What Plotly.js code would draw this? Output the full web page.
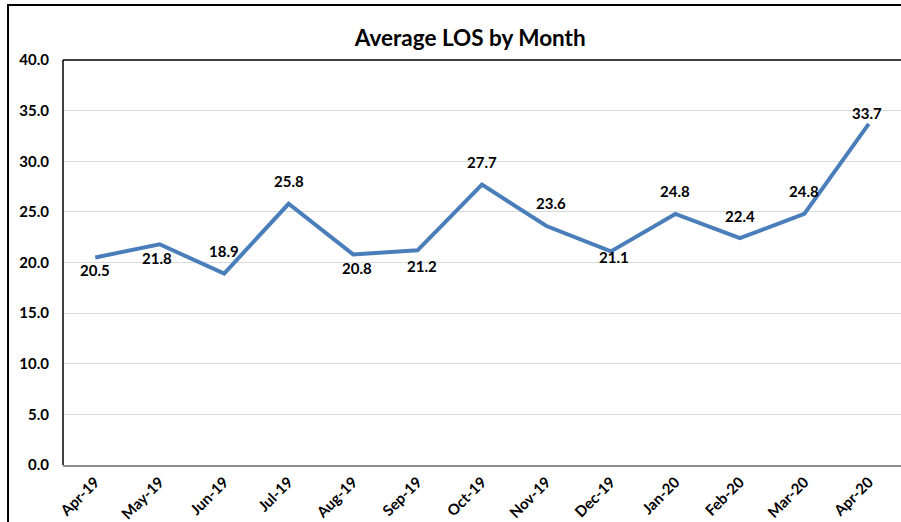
<!DOCTYPE html>
<html>
<head>
<meta charset="utf-8">
<script src="https://cdn.plot.ly/plotly-3.0.1.min.js"></script>
<style>
  html, body { margin: 0; padding: 0; background: #fff; }
  #chart { width: 901px; height: 522px; }
</style>
</head>
<body>
<div id="chart"></div>
<script>
// Monthly average length of stay
const months = ['Apr-19', 'May-19', 'Jun-19', 'Jul-19', 'Aug-19', 'Sep-19', 'Oct-19',
                'Nov-19', 'Dec-19', 'Jan-20', 'Feb-20', 'Mar-20', 'Apr-20'];
const avgLos = [20.5, 21.8, 18.9, 25.8, 20.8, 21.2, 27.7, 23.6, 21.1, 24.8, 22.4, 24.8, 33.7];
const yTicks = [0, 5, 10, 15, 20, 25, 30, 35, 40];

// label placement: vertical shift (px) of each value label from its point
const labelShift = [-13, -14, 23, 23, -14, -16, 23, 23, -6, 23, 22, 23, 11];
const labelNudge = [0, -3, 0, 0, 4, 4, 0, 5, 3, 0, 0, 0, -2];

const fontFamily = 'Lato, "Open Sans", sans-serif';

const trace = {
    x: months,
    y: avgLos,
    type: 'scatter',
    mode: 'lines',
    line: { color: '#4a7ebb', width: 4 },
    hoverinfo: 'x+y'
};

const labels = months.map((m, i) => ({
    x: m,
    y: avgLos[i],
    xref: 'x',
    yref: 'y',
    text: '<b>' + avgLos[i].toFixed(1) + '</b>',
    showarrow: false,
    xanchor: 'center',
    yanchor: 'middle',
    yshift: labelShift[i],
    xshift: labelNudge[i],
    font: { family: fontFamily, size: 15, color: '#000' }
}));

const layout = {
    width: 901,
    height: 522,
    margin: { t: 60, r: 0, b: 57, l: 63 },
    paper_bgcolor: '#fff',
    plot_bgcolor: '#fff',
    showlegend: false,
    font: { family: fontFamily, color: '#000' },
    title: {
        text: '<b>Average LOS by Month</b>',
        font: { family: fontFamily, size: 22.5, color: '#000' },
        xref: 'paper', x: 0.486, xanchor: 'center',
        yref: 'container', y: 0.927, yanchor: 'middle'
    },
    xaxis: {
        type: 'category',
        range: [-0.5, 12.5],
        autorange: false,
        automargin: false,
        tickangle: -45,
        tickfont: { family: fontFamily, size: 15, color: '#000', weight: 'bold' },
        ticklabelstandoff: 1,
        showgrid: false,
        showline: true,
        linecolor: '#8c8c8c',
        linewidth: 1.5,
        ticks: '',
        zeroline: false
    },
    yaxis: {
        range: [0, 40],
        automargin: false,
        tickvals: yTicks,
        ticktext: yTicks.map(v => v.toFixed(1)),
        tickfont: { family: fontFamily, size: 15, color: '#000', weight: 'bold' },
        ticklabelstandoff: 13,
        showgrid: true,
        gridcolor: '#d9d9d9',
        gridwidth: 1,
        zeroline: false,
        showline: false,
        ticks: ''
    },
    annotations: labels,
    shapes: [
        // outer chart frame
        { type: 'rect', xref: 'paper', yref: 'paper', x0: -0.0656, x1: 1.2, y0: -0.3, y1: 1.1358,
          line: { color: '#000', width: 2 }, layer: 'below' },
        // plot area left and top edges
        { type: 'line', xref: 'paper', yref: 'paper', x0: 0, x1: 0, y0: 0, y1: 1,
          line: { color: '#000', width: 1.5 } },
        { type: 'line', xref: 'paper', yref: 'paper', x0: 0, x1: 1.2, y0: 1, y1: 1,
          line: { color: '#000', width: 1.5 } }
    ]
};

Plotly.newPlot('chart', [trace], layout, { displayModeBar: false, staticPlot: true });
</script>
</body>
</html>
